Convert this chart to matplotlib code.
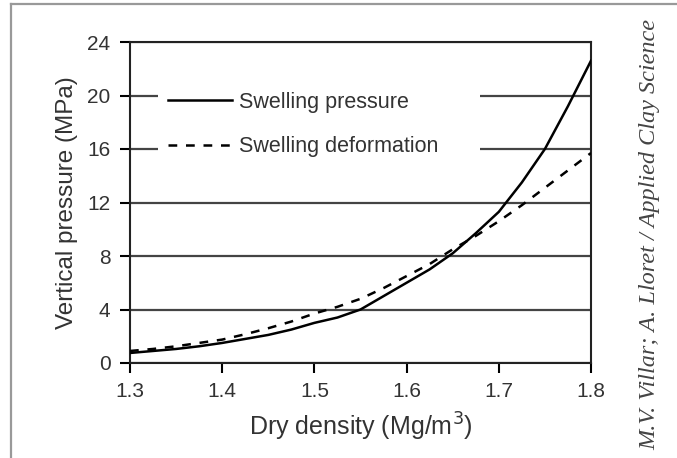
import numpy as np
import matplotlib
matplotlib.use("Agg")
import matplotlib.pyplot as plt
from matplotlib.lines import Line2D
from matplotlib.patches import Rectangle

# values
density = [1.300, 1.325, 1.350, 1.375, 1.400, 1.425, 1.450, 1.475, 1.500, 1.525,
           1.550, 1.575, 1.600, 1.625, 1.650, 1.675, 1.700, 1.725, 1.750, 1.775, 1.800]
swell_pressure = [0.75, 0.9, 1.05, 1.25, 1.5, 1.8, 2.1, 2.5, 3.0, 3.4,
                  4.0, 5.0, 6.0, 7.0, 8.2, 9.7, 11.3, 13.5, 16.0, 19.2, 22.6]
swell_deform = [0.9, 1.05, 1.25, 1.5, 1.75, 2.15, 2.6, 3.1, 3.7, 4.2,
                4.8, 5.6, 6.5, 7.4, 8.5, 9.5, 10.6, 11.8, 13.1, 14.4, 15.7]
xticks = [1.3, 1.4, 1.5, 1.6, 1.7, 1.8]
yticks = [0, 4, 8, 12, 16, 20, 24]

plt.rcParams['font.family'] = ['Liberation Sans', 'DejaVu Sans']

fig = plt.figure(figsize=(6.77, 4.58), dpi=100)
ax = fig.add_axes([130/677, 1-363/458, 461/677, 321/458])

ax.plot(density, swell_pressure, color='black', lw=1.8, zorder=4,
        label='Swelling pressure')
ax.plot(density, swell_deform, color='black', lw=1.8, zorder=4,
        dashes=(3.5, 3.5), label='Swelling deformation')

ax.set_xlim(1.3, 1.8)
ax.set_ylim(0, 24)
ax.set_xticks(xticks)
ax.set_yticks(yticks)
ax.set_xticklabels([f"{t:.1f}" for t in xticks])
ax.tick_params(direction='out', length=7, width=1.5, pad=7,
               labelsize=15, labelcolor='#333333')
ax.yaxis.grid(True, color='#444444', lw=1.6)
ax.set_axisbelow(True)
for s in ax.spines.values():
    s.set_linewidth(1.5)
    s.set_color('#222222')

ax.set_xlabel('Dry density (Mg/m$^3$)', fontsize=18, color='#333333', labelpad=7)
ax.set_ylabel('Vertical pressure (MPa)', fontsize=17.5, color='#333333', labelpad=7)

# white box behind the legend hides the grid lines
ax.add_patch(Rectangle((28/461, (363-168)/321), (480-158)/461, 88/321,
                       transform=ax.transAxes, facecolor='white',
                       edgecolor='none', zorder=3))
leg = ax.legend(loc='upper left', bbox_to_anchor=(0.082, 0.845), frameon=False,
                fontsize=15.5, handlelength=3.0, handletextpad=0.33,
                labelspacing=1.1, borderaxespad=0, borderpad=0)
leg.set_zorder(5)
for t in leg.get_texts():
    t.set_color('#333333')

fig.text(650/677, 1-235/458, 'M.V. Villar; A. Lloret / Applied Clay Science',
         rotation=90, ha='center', va='center', fontsize=17.5, style='italic',
         family='Liberation Serif', color='#444444')

# grey frame lines at the top and left of the picture
fig.add_artist(Line2D([11/677, 1], [1-3.5/458, 1-3.5/458], color='#999999', lw=1.6))
fig.add_artist(Line2D([11/677, 11/677], [0, 1-3.5/458], color='#999999', lw=1.6))

fig.savefig('out.png', dpi=100)
